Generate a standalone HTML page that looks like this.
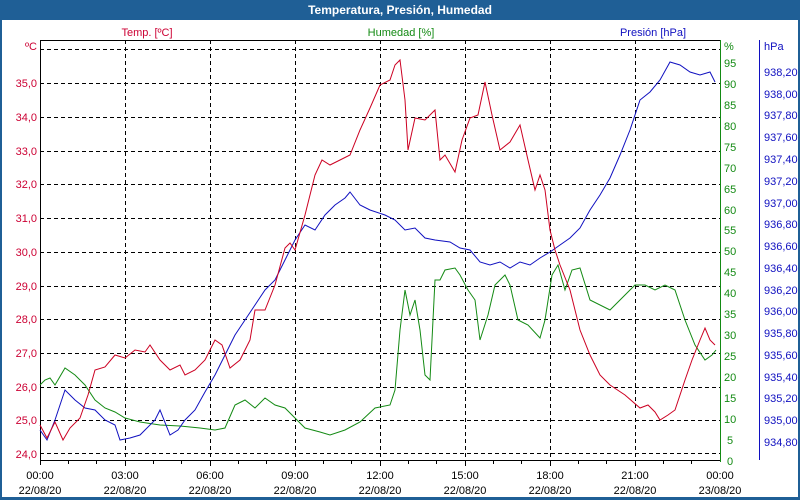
<!DOCTYPE html>
<html><head><meta charset="utf-8"><style>
html,body{margin:0;padding:0;background:#fff}
svg{display:block;font-family:"Liberation Sans",Tahoma,sans-serif}
</style></head><body>
<svg width="800" height="500" xmlns="http://www.w3.org/2000/svg">
<rect x="0" y="0" width="800" height="500" fill="#1f5f96"/>
<rect x="2" y="20" width="796" height="477" fill="#fff"/>
<text x="400" y="14" fill="#fff" font-size="12" font-weight="bold" text-anchor="middle">Temperatura, Presión, Humedad</text>
<text x="147" y="36" fill="#cc0033" font-size="11" text-anchor="middle">Temp. [ºC]</text>
<text x="401" y="36" fill="#138a13" font-size="11" text-anchor="middle">Humedad [%]</text>
<text x="653" y="36" fill="#1010c0" font-size="11" text-anchor="middle">Presión [hPa]</text>
<g stroke="#000" stroke-width="1" stroke-dasharray="4,3" fill="none">
<line x1="40" y1="49.5" x2="720" y2="49.5"/><line x1="40" y1="83.5" x2="720" y2="83.5"/><line x1="40" y1="117.5" x2="720" y2="117.5"/><line x1="40" y1="151.5" x2="720" y2="151.5"/><line x1="40" y1="184.5" x2="720" y2="184.5"/><line x1="40" y1="218.5" x2="720" y2="218.5"/><line x1="40" y1="252.5" x2="720" y2="252.5"/><line x1="40" y1="286.5" x2="720" y2="286.5"/><line x1="40" y1="319.5" x2="720" y2="319.5"/><line x1="40" y1="353.5" x2="720" y2="353.5"/><line x1="40" y1="387.5" x2="720" y2="387.5"/><line x1="40" y1="420.5" x2="720" y2="420.5"/><line x1="40" y1="453.5" x2="720" y2="453.5"/>
<line x1="125.5" y1="40" x2="125.5" y2="460"/><line x1="210.5" y1="40" x2="210.5" y2="460"/><line x1="295.5" y1="40" x2="295.5" y2="460"/><line x1="380.5" y1="40" x2="380.5" y2="460"/><line x1="465.5" y1="40" x2="465.5" y2="460"/><line x1="550.5" y1="40" x2="550.5" y2="460"/><line x1="635.5" y1="40" x2="635.5" y2="460"/>
</g>
<g stroke="#000"><line x1="40.5" y1="40" x2="40.5" y2="465"/><line x1="40" y1="40.5" x2="720" y2="40.5"/><line x1="40" y1="460.5" x2="720" y2="460.5"/>
<path d="M68.5 460v4M96.5 460v4M153.5 460v4M181.5 460v4M238.5 460v4M266.5 460v4M323.5 460v4M351.5 460v4M408.5 460v4M436.5 460v4M493.5 460v4M521.5 460v4M578.5 460v4M606.5 460v4M663.5 460v4M691.5 460v4M125.5 460v6M210.5 460v6M295.5 460v6M380.5 460v6M465.5 460v6M550.5 460v6M635.5 460v6"/></g>
<line x1="720.5" y1="40" x2="720.5" y2="462" stroke="#138a13"/>
<line x1="759.5" y1="40" x2="759.5" y2="460" stroke="#1010c0"/>
<g fill="#cc0033" font-size="11" text-anchor="end">
<text x="37" y="50">ºC</text><text x="37" y="87">35,0</text><text x="37" y="121">34,0</text><text x="37" y="155">33,0</text><text x="37" y="188">32,0</text><text x="37" y="222">31,0</text><text x="37" y="256">30,0</text><text x="37" y="290">29,0</text><text x="37" y="323">28,0</text><text x="37" y="357">27,0</text><text x="37" y="391">26,0</text><text x="37" y="424">25,0</text><text x="37" y="458">24,0</text>
</g>
<g fill="#138a13" font-size="11">
<text x="724" y="50">%</text><text x="724" y="67">95</text><text x="724" y="88">90</text><text x="724" y="109">85</text><text x="724" y="130">80</text><text x="724" y="151">75</text><text x="724" y="172">70</text><text x="724" y="193">65</text><text x="724" y="214">60</text><text x="724" y="234">55</text><text x="724" y="255">50</text><text x="724" y="276">45</text><text x="724" y="297">40</text><text x="724" y="318">35</text><text x="724" y="339">30</text><text x="724" y="360">25</text><text x="724" y="381">20</text><text x="724" y="402">15</text><text x="724" y="423">10</text><text x="727" y="444">5</text><text x="727" y="465">0</text>
</g>
<g fill="#1010c0" font-size="11">
<text x="764" y="50">hPa</text><text x="764" y="76">938,20</text><text x="764" y="98">938,00</text><text x="764" y="119">937,80</text><text x="764" y="141">937,60</text><text x="764" y="163">937,40</text><text x="764" y="185">937,20</text><text x="764" y="207">937,00</text><text x="764" y="228">936,80</text><text x="764" y="250">936,60</text><text x="764" y="272">936,40</text><text x="764" y="294">936,20</text><text x="764" y="315">936,00</text><text x="764" y="337">935,80</text><text x="764" y="359">935,60</text><text x="764" y="381">935,40</text><text x="764" y="402">935,20</text><text x="764" y="424">935,00</text><text x="764" y="446">934,80</text>
</g>
<g fill="#000" font-size="11" text-anchor="middle">
<text x="40" y="479">00:00</text><text x="40" y="494">22/08/20</text>
<text x="125" y="479">03:00</text><text x="125" y="494">22/08/20</text>
<text x="210" y="479">06:00</text><text x="210" y="494">22/08/20</text>
<text x="295" y="479">09:00</text><text x="295" y="494">22/08/20</text>
<text x="380" y="479">12:00</text><text x="380" y="494">22/08/20</text>
<text x="465" y="479">15:00</text><text x="465" y="494">22/08/20</text>
<text x="550" y="479">18:00</text><text x="550" y="494">22/08/20</text>
<text x="635" y="479">21:00</text><text x="635" y="494">22/08/20</text>
<text x="720" y="479">00:00</text><text x="720" y="494">23/08/20</text>
</g>
<polyline fill="none" stroke="#138a13" stroke-width="1" points="40,385 45,380 50,378 55,385 65,368 75,375 85,385 95,400 105,408 115,412 125,418 140,422 160,425 180,426 200,428 215,430 225,428 235,405 245,400 255,408 265,398 275,405 285,408 295,418 305,428 320,432 330,435 345,430 360,422 375,408 390,405 395,390 400,330 405,290 410,315 415,300 420,330 425,375 430,380 435,280 440,280 445,270 455,268 460,275 468,290 475,300 480,340 488,315 495,285 505,275 510,285 518,320 528,325 540,338 545,320 552,275 558,265 565,290 572,270 580,268 590,300 610,310 625,295 635,285 645,285 655,290 665,285 675,290 685,320 695,345 705,360 712,355 716,350"/>
<polyline fill="none" stroke="#1010c0" stroke-width="1" points="40,430 47,440 55,420 65,390 75,400 85,408 95,410 105,420 115,425 120,440 130,438 140,435 155,420 160,410 170,435 178,430 185,420 195,410 205,392 215,375 225,355 235,335 245,320 255,305 265,290 275,280 285,260 295,240 305,225 315,230 325,215 335,205 345,198 350,192 360,205 370,210 385,215 395,220 405,230 415,228 425,238 435,240 450,242 460,248 470,250 480,262 490,265 500,262 510,268 520,262 530,265 540,258 550,252 560,245 570,238 580,228 590,210 600,195 610,178 620,155 630,130 640,100 650,92 660,80 670,62 680,65 690,72 700,75 710,72 715,82"/>
<polyline fill="none" stroke="#cc0022" stroke-width="1" points="40,425 47,438 55,422 63,440 70,428 80,418 88,395 95,370 105,367 115,355 125,358 135,350 145,352 150,345 160,360 170,370 180,365 185,375 195,370 205,360 215,340 222,345 230,368 240,360 250,340 255,310 265,310 275,285 285,248 290,243 295,250 305,215 315,175 322,160 330,165 340,160 350,155 360,130 370,108 380,85 390,80 395,65 400,60 405,100 408,150 415,118 425,120 435,110 440,160 445,155 455,172 462,140 470,118 478,115 485,82 492,115 500,150 510,142 520,125 528,160 535,190 540,175 545,190 550,230 555,250 560,265 570,290 580,330 590,355 600,375 610,385 625,395 640,408 648,405 655,412 660,420 668,415 675,410 685,380 692,360 700,340 705,328 710,340 715,345"/>
</svg>
</body></html>
